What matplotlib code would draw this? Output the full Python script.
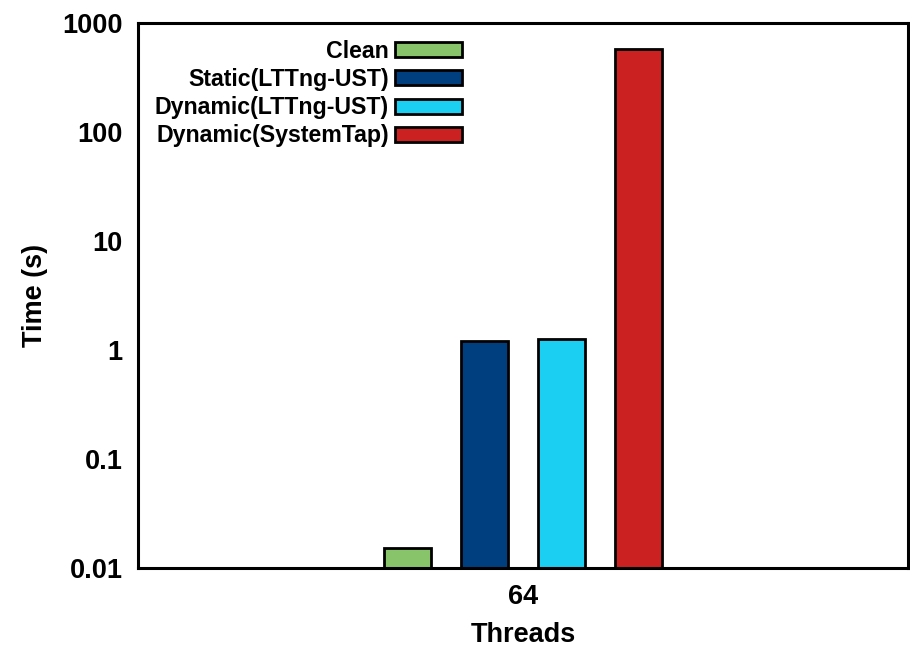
import numpy as np
import matplotlib
matplotlib.use("Agg")
import matplotlib.pyplot as plt

# data (64 threads, log scale)
threads = ["64"]
series = ["Clean", "Static(LTTng-UST)", "Dynamic(LTTng-UST)", "Dynamic(SystemTap)"]
times = [0.0151, 1.20, 1.245, 578.0]
colors = ["#88c46a", "#003f7f", "#1bcff3", "#cc2121"]

plt.rcParams["font.family"] = ["Liberation Sans", "DejaVu Sans"]
plt.rcParams["font.weight"] = "bold"

fig = plt.figure(figsize=(9.1, 6.47), dpi=100)
ax = fig.add_axes([0.1516, 0.1228, 0.8464, 0.8423])

width = 0.06
offsets = (np.arange(len(series)) - (len(series) - 1) / 2) * 0.1
for off, name, t, c in zip(offsets, series, times, colors):
    ax.bar(off, t, width, color=c, edgecolor="black",
           linewidth=2.0, label=name, zorder=2)

ax.set_yscale("log")
ax.set_ylim(0.01, 1000)
ax.set_xlim(-0.5, 0.5)
ax.set_yticks([0.01, 0.1, 1, 10, 100, 1000])
ax.set_yticklabels(["0.01", "0.1", "1", "10", "100", "1000"])
ax.minorticks_off()
ax.set_xticks([0])
ax.set_xticklabels(threads)
ax.tick_params(axis="both", length=0, labelsize=19.5)
ax.tick_params(axis="y", pad=11)
ax.tick_params(axis="x", pad=11.5)
for s in ax.spines.values():
    s.set_linewidth(2.2)
    s.set_zorder(3)

ax.set_xlabel("Threads", fontsize=19.5, fontweight="bold", labelpad=9)
ax.set_ylabel("Time (s)", fontsize=19.5, fontweight="bold", labelpad=10)

ax.legend(loc="upper right", bbox_to_anchor=(0.4325, 0.985), frameon=False,
          markerfirst=False, handlelength=2.9, handleheight=0.62,
          labelspacing=0.22, handletextpad=0.25, borderaxespad=0,
          prop={"weight": "bold", "size": 16.7})

fig.savefig("out.png", dpi=100)
